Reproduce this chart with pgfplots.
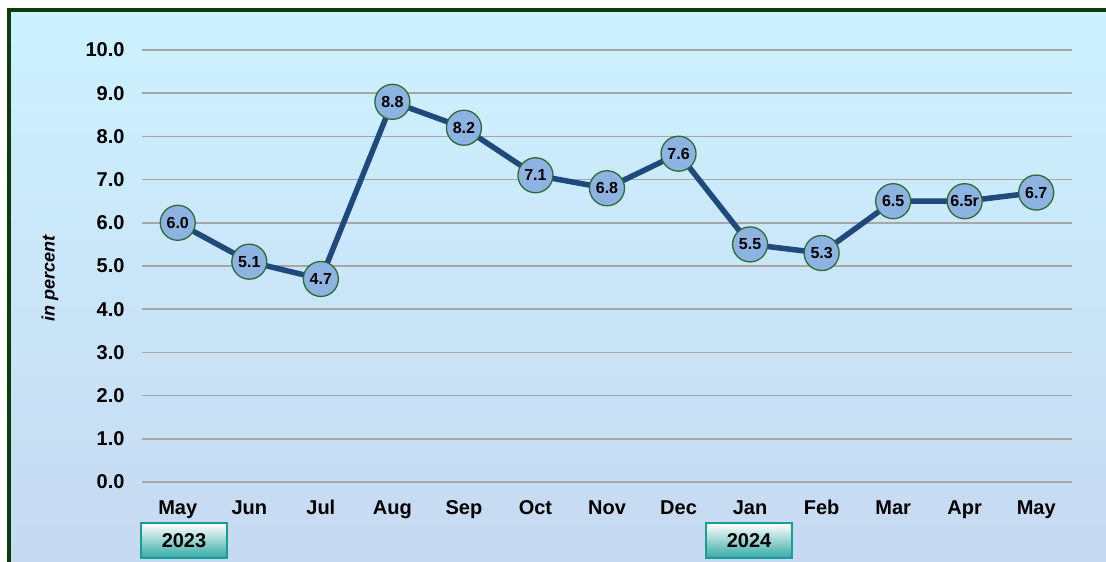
\documentclass[border=0pt]{standalone}
\usepackage{pgfplots}
\pgfplotsset{compat=1.18}
\usepackage{fontspec}
\setmainfont{Liberation Sans}

\definecolor{bgtop}{HTML}{CDF2FF}
\definecolor{bgbot}{HTML}{C6D9F1}
\definecolor{framegreen}{HTML}{0A3D0A}
\definecolor{linecol}{HTML}{1F497D}
\definecolor{markfill}{HTML}{8DB3E2}
\definecolor{markedge}{HTML}{2E6B32}
\definecolor{gridcol}{HTML}{A6A6A6}
\definecolor{teal1}{HTML}{1A9C98}
\definecolor{teal2}{HTML}{30A8A2}

% unemployment rate, May 2023 - May 2024
\pgfplotstableread{
x y lab
0 6.0 6.0
1 5.1 5.1
2 4.7 4.7
3 8.8 8.8
4 8.2 8.2
5 7.1 7.1
6 6.8 6.8
7 7.6 7.6
8 5.5 5.5
9 5.3 5.3
10 6.5 6.5
11 6.5 6.5r
12 6.7 6.7
}\ratedata

\begin{document}
\begin{tikzpicture}[x=1pt,y=1pt]
\useasboundingbox (0,0) rectangle (1106,562);
\fill[white] (0,0) rectangle (1106,562);
\shade[top color=bgtop, bottom color=bgbot] (9,0) rectangle (1106,552);
\draw[line width=4pt, framegreen] (9,0) -- (9,552) -- (1106,552);

\begin{axis}[
  at={(142pt,80pt)}, anchor=south west,
  width=930pt, height=432pt, scale only axis,
  xmin=-0.5, xmax=12.5, ymin=0, ymax=10,
  axis line style={draw=none},
  major tick length=0pt,
  clip=false,
  xtick={0,...,12},
  xticklabels={May,Jun,Jul,Aug,Sep,Oct,Nov,Dec,Jan,Feb,Mar,Apr,May},
  ytick={0,...,10},
  yticklabels={0.0,1.0,2.0,3.0,4.0,5.0,6.0,7.0,8.0,9.0,10.0},
  ymajorgrids,
  grid style={gridcol, line width=1.5pt},
  tick label style={font=\bfseries\fontsize{20}{20}\selectfont, text=black},
  xticklabel style={anchor=north, yshift=-15pt, text height=14pt, text depth=4pt},
  yticklabel style={xshift=-14pt},
  ylabel={in percent},
  ylabel style={at={(axis description cs:-0.099,0.47)}, anchor=center,
    font=\bfseries\itshape\fontsize{18}{18}\selectfont},
]
\addplot[
  linecol, line width=5.5pt,
  mark=*, mark size=17.5pt,
  mark options={fill=markfill, draw=markedge, line width=1.3pt},
  nodes near coords,
  point meta=explicit symbolic,
  every node near coord/.append style={anchor=center, inner sep=0pt,
    font=\bfseries\fontsize{16}{16}\selectfont, text=black},
] table[x=x, y=y, meta=lab] {\ratedata};
\end{axis}

\node[draw=teal1, line width=2pt, top color=white, bottom color=teal2,
  minimum width=86pt, minimum height=35pt, inner sep=0pt,
  font=\bfseries\fontsize{20}{20}\selectfont] at (184,21) {2023};
\node[draw=teal1, line width=2pt, top color=white, bottom color=teal2,
  minimum width=86pt, minimum height=35pt, inner sep=0pt,
  font=\bfseries\fontsize{20}{20}\selectfont] at (749,21) {2024};
\end{tikzpicture}
\end{document}
